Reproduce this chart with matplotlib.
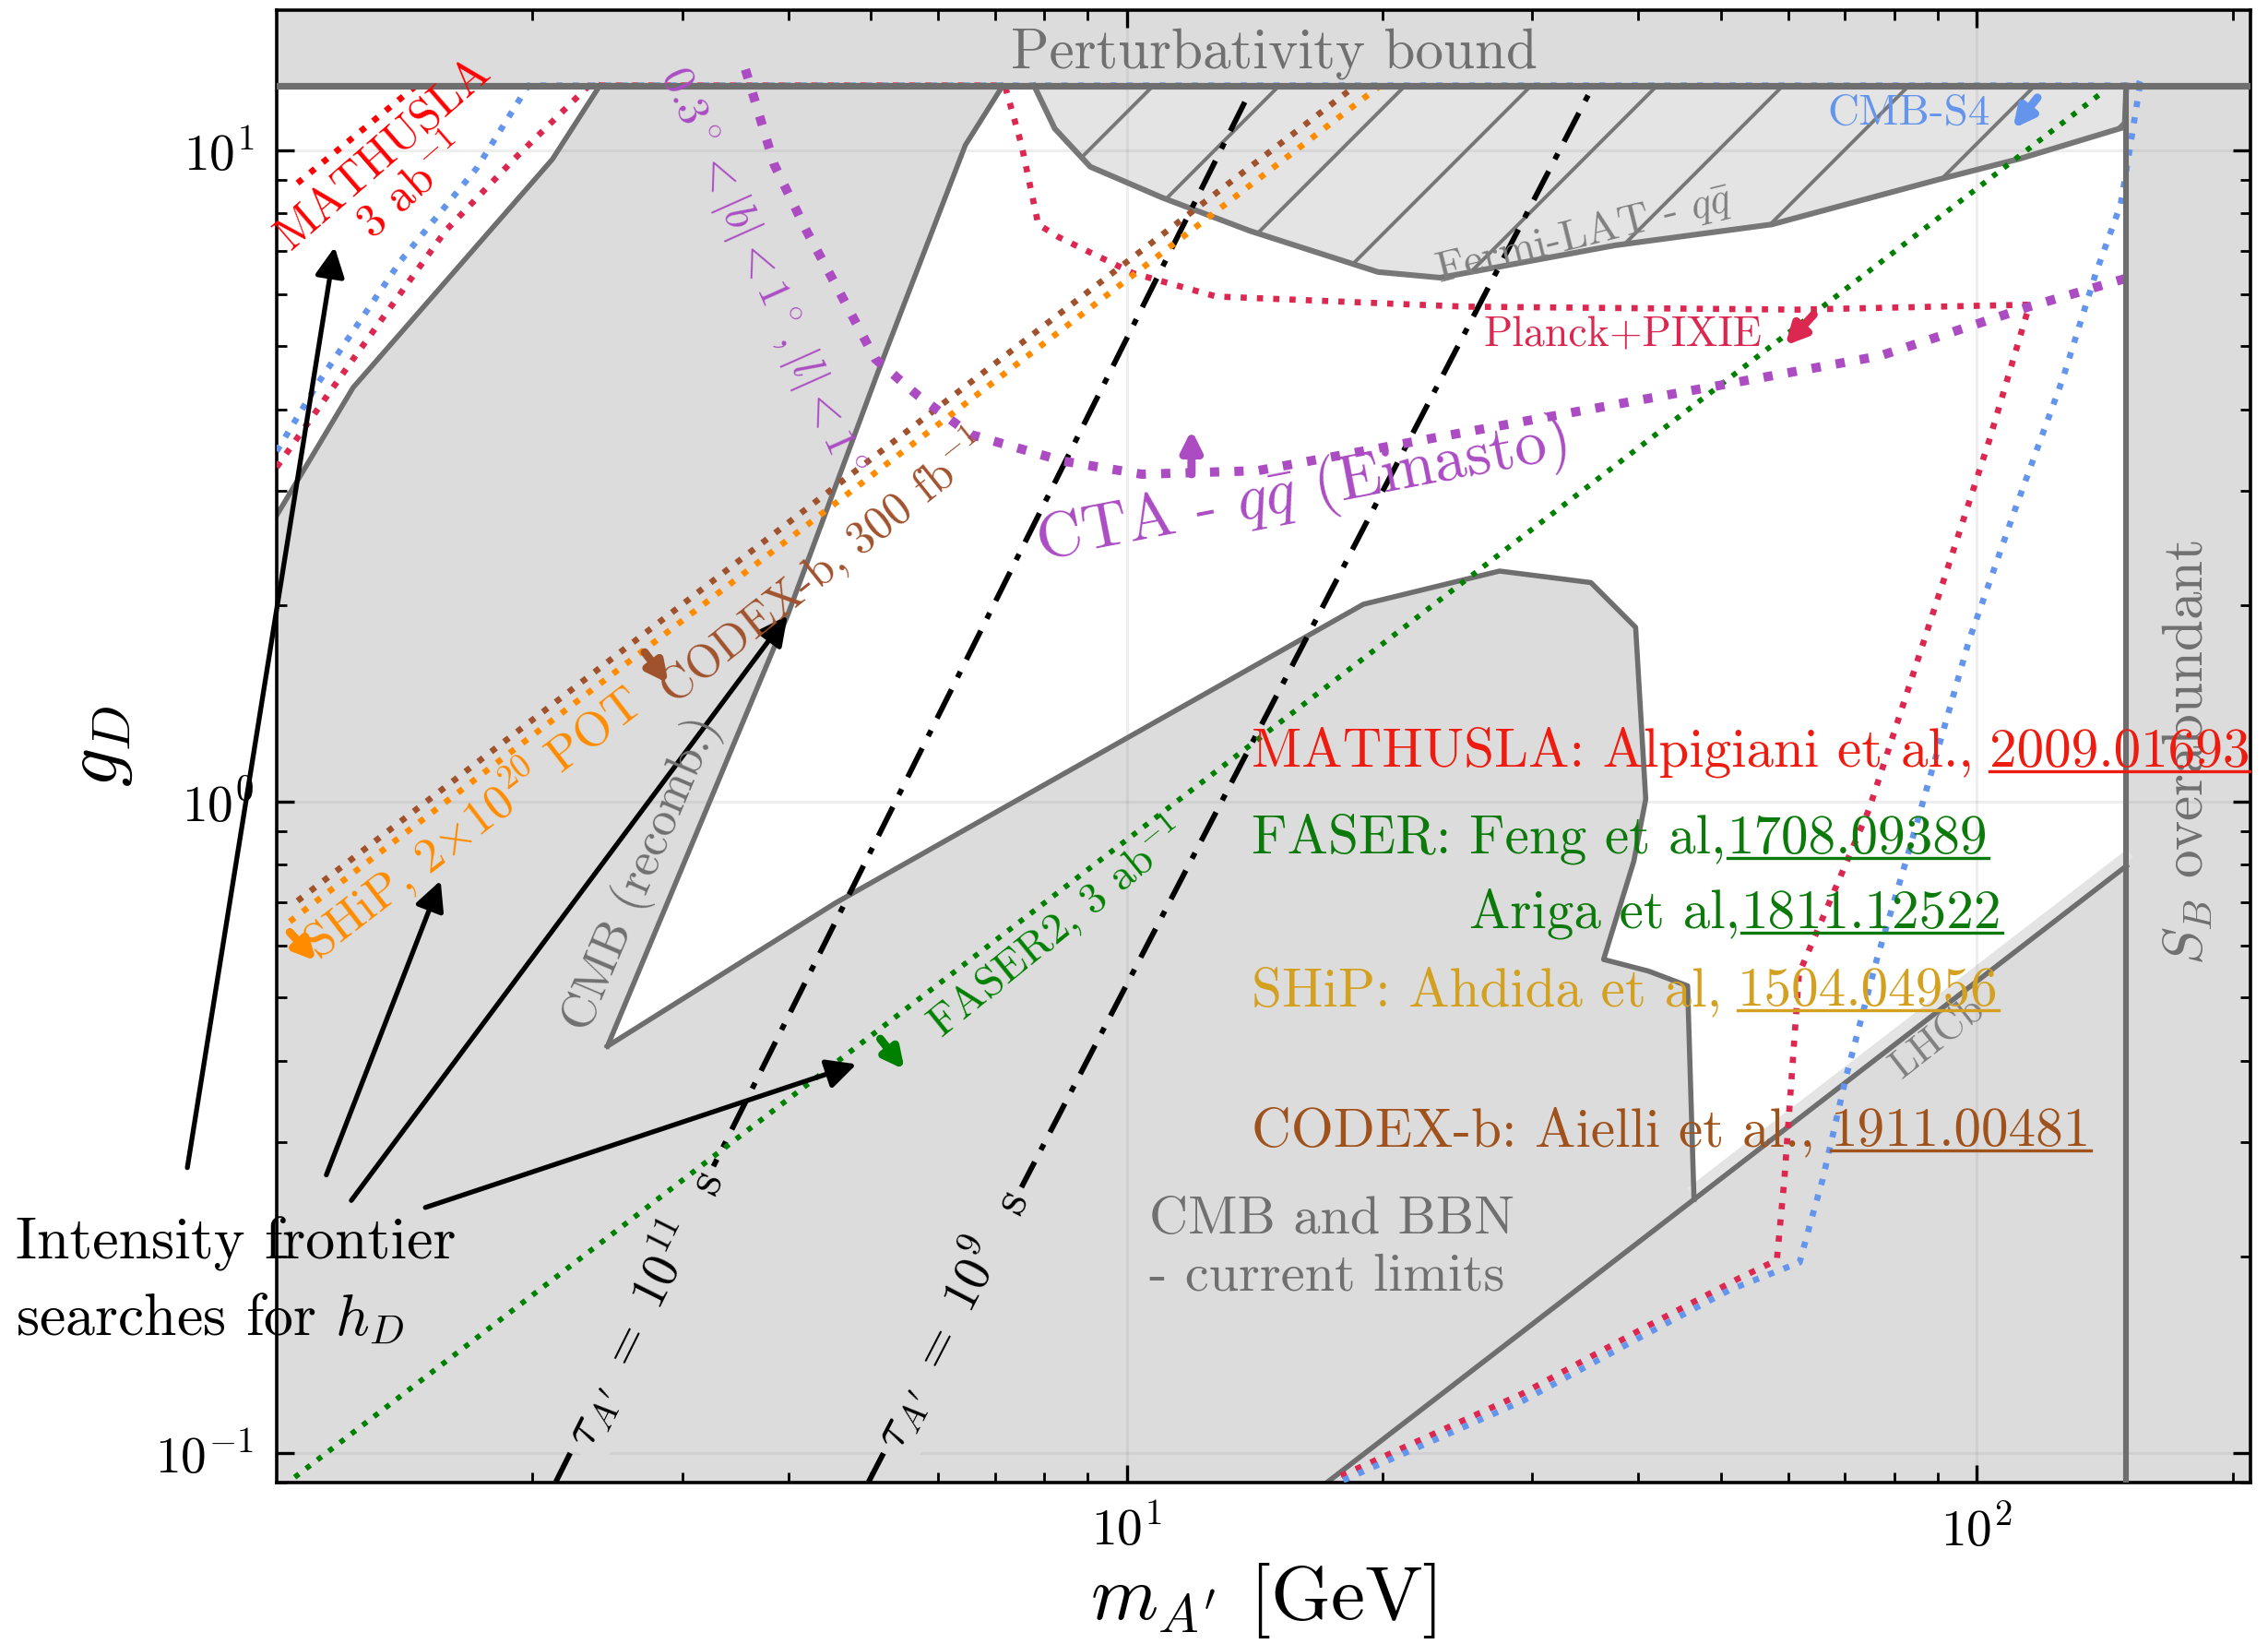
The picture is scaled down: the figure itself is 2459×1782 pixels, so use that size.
import matplotlib
matplotlib.use("Agg")
import matplotlib.pyplot as plt
import numpy as np
from matplotlib.lines import Line2D
from matplotlib.patches import Polygon

plt.rcParams.update({
    "font.family": ["cmr10"],
    "mathtext.fontset": "cm",
    "axes.formatter.use_mathtext": True,
    "axes.unicode_minus": False,
})

GPERT = 4 * np.pi      # perturbativity bound on g_D
M_SB = 150.0           # S_B overabundant above this mass

GRAY = "#dcdcdc"
EDGE = "#6e6e6e"

# ---- excluded / allowed regions (m_A' in GeV, g_D) ----
corner_m = [1.0, 1.23, 2.11, 2.40]
corner_g = [2.75, 4.32, 9.68, GPERT]

recomb_m = [2.45, 3.99, 5.10, 6.46, 7.15]
recomb_g = [0.421, 1.93, 4.57, 10.18, GPERT]

bbn_m = [2.45, 4.54, 18.99, 27.46, 35.16, 39.7, 40.8, 39.5, 36.4, 41.1, 45.7, 46.5]
bbn_g = [0.421, 0.698, 2.008, 2.258, 2.168, 1.85, 1.008, 0.809, 0.572, 0.549, 0.521, 0.245]

lhcb_m = [17.2, 150.0]
lhcb_g = [0.09, 0.796]

fermi_m = [7.78, 8.23, 9.06, 11.02, 13.95, 19.75, 23.38, 37.5, 57.4, 90.1, 112.7, 149.3, 150.0]
fermi_g = [GPERT, 10.79, 9.43, 8.45, 7.52, 6.50, 6.37, 7.14, 7.69, 9.01, 9.71, 10.85, GPERT]

# ---- projections ----
mathusla_m = [1.058, 1.46]
mathusla_g = [8.9, GPERT]

planck_m = [1.0, 1.222, 1.58, 1.906, 2.33, 7.19, 7.52, 7.87, 8.32, 10.18, 12.75, 25.02,
            61.5, 115.4, 103.3, 74.7, 61.8, 59.4, 58.2, 52.4, 40.8, 29.2, 17.5]
planck_g = [3.26, 4.72, 7.52, 9.71, GPERT, GPERT, 10.19, 7.69, 7.35, 6.47, 5.96, 5.75,
            5.69, 5.79, 3.56, 0.972, 0.544, 0.263, 0.1976, 0.185, 0.156, 0.1232, 0.091]

cmbs4_m = [1.0, 1.12, 1.40, 1.72, 1.977, 155.0, 156.1, 151.0, 147.7, 138.1, 126.3, 111.1, 98.0,
           82.9, 76.3, 70.2, 65.9, 63.9, 61.9, 51.3, 40.8, 29.2, 17.9]
cmbs4_g = [3.45, 4.40, 6.77, 9.39, GPERT, GPERT, 12.9, 9.83, 8.25, 6.47, 4.46, 2.82, 1.77,
           0.824, 0.572, 0.3775, 0.263, 0.228, 0.196, 0.178, 0.152, 0.12, 0.0905]

cta_m = [3.56, 3.85, 4.20, 4.58, 5.06, 5.68, 6.55, 8.43, 10.42, 14.26, 22.86, 39.2, 76.9, 115.3, 154.5]
cta_g = [13.3, 9.49, 7.52, 6.10, 4.78, 4.20, 3.66, 3.33, 3.18, 3.22, 3.61, 4.11, 4.83, 5.75, 6.43]

ship_m = [1.036, 19.88]
ship_g = [0.654, GPERT]
codex_m = [1.058, 18.6]
codex_g = [0.7035, GPERT]
faser2_m = [1.05, 140.5]
faser2_g = [0.0917, 12.26]

tau11_m = [2.13, 13.95]
tau11_g = [0.0902, 12.26]
tau9_m = [4.97, 35.04]
tau9_g = [0.0902, 12.26]

# small direction markers: (tail, tip, colour)
markers = [
    ((1.036, 0.63), (1.113, 0.569), "darkorange"),
    ((2.71, 1.694), (2.89, 1.518), "sienna"),
    ((5.13, 0.432), (5.48, 0.3875), "green"),
    ((11.92, 3.18), (11.92, 3.72), "#ab4cc3"),
    ((64.3, 5.59), (59.5, 5.01), "#dc2850"),
    ((117.9, 12.04), (110.3, 10.79), "#6495ed"),
]

# "Intensity frontier" pointers: (tail, tip)
pointers = [
    ((0.785, 0.274), (1.17, 7.10)),
    ((1.144, 0.267), (1.559, 0.756)),
    ((1.224, 0.244), (3.99, 1.93)),
    ((1.496, 0.238), (4.81, 0.395)),
]

fig = plt.figure(figsize=(12.295, 8.91), dpi=200)
ax = fig.add_axes([0.122, 0.0982, 0.8703, 0.8956])
ax.set_xscale("log")
ax.set_yscale("log")
ax.set_xlim(1.0, 210)
ax.set_ylim(0.09, 16.4)
ax.set_facecolor(GRAY)

# allowed regions in white
ax.fill(corner_m + [1.0], corner_g + [GPERT], color="white", lw=0, zorder=0.5)
central_m = recomb_m + [M_SB, M_SB] + bbn_m[::-1]
central_g = recomb_g + [GPERT, lhcb_g[-1]] + bbn_g[::-1]
ax.fill(central_m, central_g, color="white", lw=0, zorder=0.5)

ax.axhspan(GPERT, 100, color=GRAY, lw=0, zorder=0.6)
ax.axvspan(M_SB, 1000, color=GRAY, lw=0, zorder=0.6)

# Fermi-LAT exclusion with sparse diagonal hatching
fermi = Polygon(np.column_stack([fermi_m, fermi_g]), closed=True,
                fc="#e4e4e4", ec="none", zorder=0.8)
ax.add_patch(fermi)
bb = ax.get_position()
W = bb.width * fig.get_figwidth()
H = bb.height * fig.get_figheight()
step = 0.0638
for x0 in np.arange(-0.2634 - 20 * step, 1.2, step):
    hl, = ax.plot([x0, x0 + H / W], [0, 1], transform=ax.transAxes,
                  color="#777777", lw=1.4, zorder=0.9)
    hl.set_clip_path(fermi)
ax.plot(fermi_m, fermi_g, color="#777777", lw=2.2, zorder=2)

ax.grid(True, which="major", color="gray", alpha=0.13, lw=1.1, zorder=1)
ax.set_axisbelow(False)

# region edges
ax.plot(corner_m, corner_g, color=EDGE, lw=2.0, zorder=2)
ax.plot(recomb_m, recomb_g, color=EDGE, lw=2.0, zorder=2)
ax.plot(bbn_m, bbn_g, color=EDGE, lw=2.0, zorder=2)
ax.plot([bbn_m[-1], lhcb_m[-1]], np.array([bbn_g[-1], lhcb_g[-1]]) * 1.035,
        color="#e4e4e4", lw=4, zorder=1.9)
ax.plot(lhcb_m, lhcb_g, color=EDGE, lw=2.0, zorder=2)

# projections
ax.plot(planck_m, planck_g, ls=":", color="#dc2850", lw=2.4, zorder=3)
ax.plot(cmbs4_m, cmbs4_g, ls=":", color="#6495ed", lw=2.4, zorder=3)
ax.plot(mathusla_m, mathusla_g, ls=":", color="red", lw=2.4, zorder=3)
ax.plot(codex_m, codex_g, ls=":", color="sienna", lw=2.4, zorder=3)
ax.plot(ship_m, ship_g, ls=":", color="darkorange", lw=2.4, zorder=3)
ax.plot(faser2_m, faser2_g, ls=":", color="green", lw=2.1, zorder=3)
ax.plot(cta_m, cta_g, ls=":", color="#ab4cc3", lw=3.6, zorder=3)

dashdot = (0, (6, 2.5, 1.2, 2.5))
ax.plot(tau11_m, tau11_g, ls=dashdot, color="black", lw=2.1, zorder=2.8)
ax.plot(tau9_m, tau9_g, ls=dashdot, color="black", lw=2.1, zorder=2.8)

ax.axhline(GPERT, color=EDGE, lw=2.6, zorder=3.5)
ax.plot([M_SB, M_SB], [0.05, GPERT], color=EDGE, lw=2.2, zorder=3.5)

for tail, tip, c in markers:
    ax.annotate("", xy=tip, xytext=tail, zorder=6,
                arrowprops=dict(arrowstyle="-|>", color=c, lw=3.2,
                                mutation_scale=16, shrinkA=0, shrinkB=0))
for tail, tip in pointers:
    ax.annotate("", xy=tip, xytext=tail, zorder=6, annotation_clip=False,
                arrowprops=dict(arrowstyle="-|>", color="black", lw=1.9,
                                mutation_scale=24, shrinkA=0, shrinkB=0))

# labels
ax.text(14.9, 14.05, "Perturbativity bound", color="#707070", fontsize=22,
        ha="center", va="center", zorder=6)
ax.text(177, 1.19, r"$S_B$ overabundant", color="#707070", fontsize=22,
        rotation=90, ha="center", va="center", zorder=6)
ax.text(10.63, 0.206, "CMB and BBN\n- current limits", color="#707070", fontsize=21,
        ha="left", va="center", linespacing=1.25, zorder=6)
ax.text(0.493, 0.183, "Intensity frontier\nsearches for $h_D$", color="black",
        fontsize=23, ha="left", va="center", linespacing=1.5, clip_on=False, zorder=6)

rot = dict(ha="center", va="center", rotation_mode="anchor", zorder=6)
ax.text(1.39, 9.3, "MATHUSLA\n3 ab$^{-1}$", color="red", fontsize=18,
        rotation=41, linespacing=1.0, **rot)
ax.text(83.3, 11.4, "CMB-S4", color="#6495ed", fontsize=17, **rot)
ax.text(38.3, 5.19, "Planck+PIXIE", color="#dc2850", fontsize=16.5, **rot)
ax.text(34.5, 7.42, r"Fermi-LAT - $q\bar{q}$", color="#808080", fontsize=17,
        rotation=14, **rot)
ax.text(16.04, 2.99, r"CTA - $q\bar{q}$ (Einasto)", color="#ab4cc3", fontsize=25,
        rotation=11, **rot)
ax.text(3.72, 6.5, r"$0.3^\circ<|b|<1^\circ, |l|<1^\circ$", color="#ab4cc3",
        fontsize=17.5, rotation=-66, **rot)
ax.text(1.70, 0.93, r"SHiP, 2$\times$10$^{20}$ POT", color="darkorange", fontsize=19,
        rotation=37.5, **rot)
ax.text(4.40, 2.28, r"CODEX-b, 300 fb$^{-1}$", color="sienna", fontsize=18,
        rotation=38.5, **rot)
ax.text(8.27, 0.64, r"FASER2, 3 ab$^{-1}$", color="green", fontsize=17,
        rotation=39, **rot)
ax.text(2.69, 0.773, "CMB (recomb.)", color="#707070", fontsize=19,
        rotation=67, **rot)
ax.text(90.1, 0.434, "LHCb", color="#808080", fontsize=16, rotation=38, **rot)

tau_box = dict(boxstyle="square,pad=0.15", fc=GRAY, ec="none")
ax.text(2.69, 0.167, r"$\tau_{A'}\ =\ 10^{11}$  s", color="black", fontsize=20,
        rotation=63.5, bbox=tau_box, ha="center", va="center",
        rotation_mode="anchor", zorder=2.9)
ax.text(6.18, 0.161, r"$\tau_{A'}\ =\ 10^{9}$  s", color="black", fontsize=20,
        rotation=62.6, bbox=tau_box, ha="center", va="center",
        rotation_mode="anchor", zorder=2.9)

# references, arXiv numbers underlined
refs = []


def cite(m, g, head, ref, color, gap):
    t = ax.text(m, g, head, color=color, fontsize=21.3, ha="left", va="baseline", zorder=6)
    r = ax.annotate(ref, xy=(1, 0), xycoords=t, xytext=(gap, 0),
                    textcoords="offset points", color=color, fontsize=21.3,
                    ha="left", va="bottom", zorder=6)
    refs.append((r, color))


cite(14.04, 1.133, "MATHUSLA: Alpigiani et al.,", "2009.01693", "#ee1c10", 6)
cite(14.04, 0.834, "FASER: Feng et al,", "1708.09389", "#0b7a0b", 0.5)
cite(25.3, 0.64, "Ariga et al,", "1811.12522", "#0b7a0b", 0.5)
cite(14.04, 0.4856, "SHiP: Ahdida et al,", "1504.04956", "#d4a020", 6)
cite(14.04, 0.2958, "CODEX-b: Aielli et al.,", "1911.00481", "#a0521c", 6)

ax.set_xticks([10, 100])
ax.set_yticks([0.1, 1, 10])
ax.tick_params(which="both", direction="in", top=True, right=True, labelsize=20)
ax.tick_params(which="major", length=7, width=1.2, pad=9)
ax.tick_params(which="minor", length=4, width=1.0)
for s in ax.spines.values():
    s.set_linewidth(1.3)

ax.set_xlabel(r"$m_{A'}$ [GeV]", fontsize=30, labelpad=2)
ax.set_ylabel(r"$g_D$", fontsize=30, labelpad=8)

fig.canvas.draw()
inv = fig.transFigure.inverted()
for r, c in refs:
    e = r.get_window_extent()
    (x0, y0), (x1, _) = inv.transform([(e.x0, e.y0 + 7), (e.x1, e.y0 + 7)])
    fig.add_artist(Line2D([x0, x1], [y0, y0], color=c, lw=1.2, transform=fig.transFigure))

fig.savefig("out.png", dpi=200)
